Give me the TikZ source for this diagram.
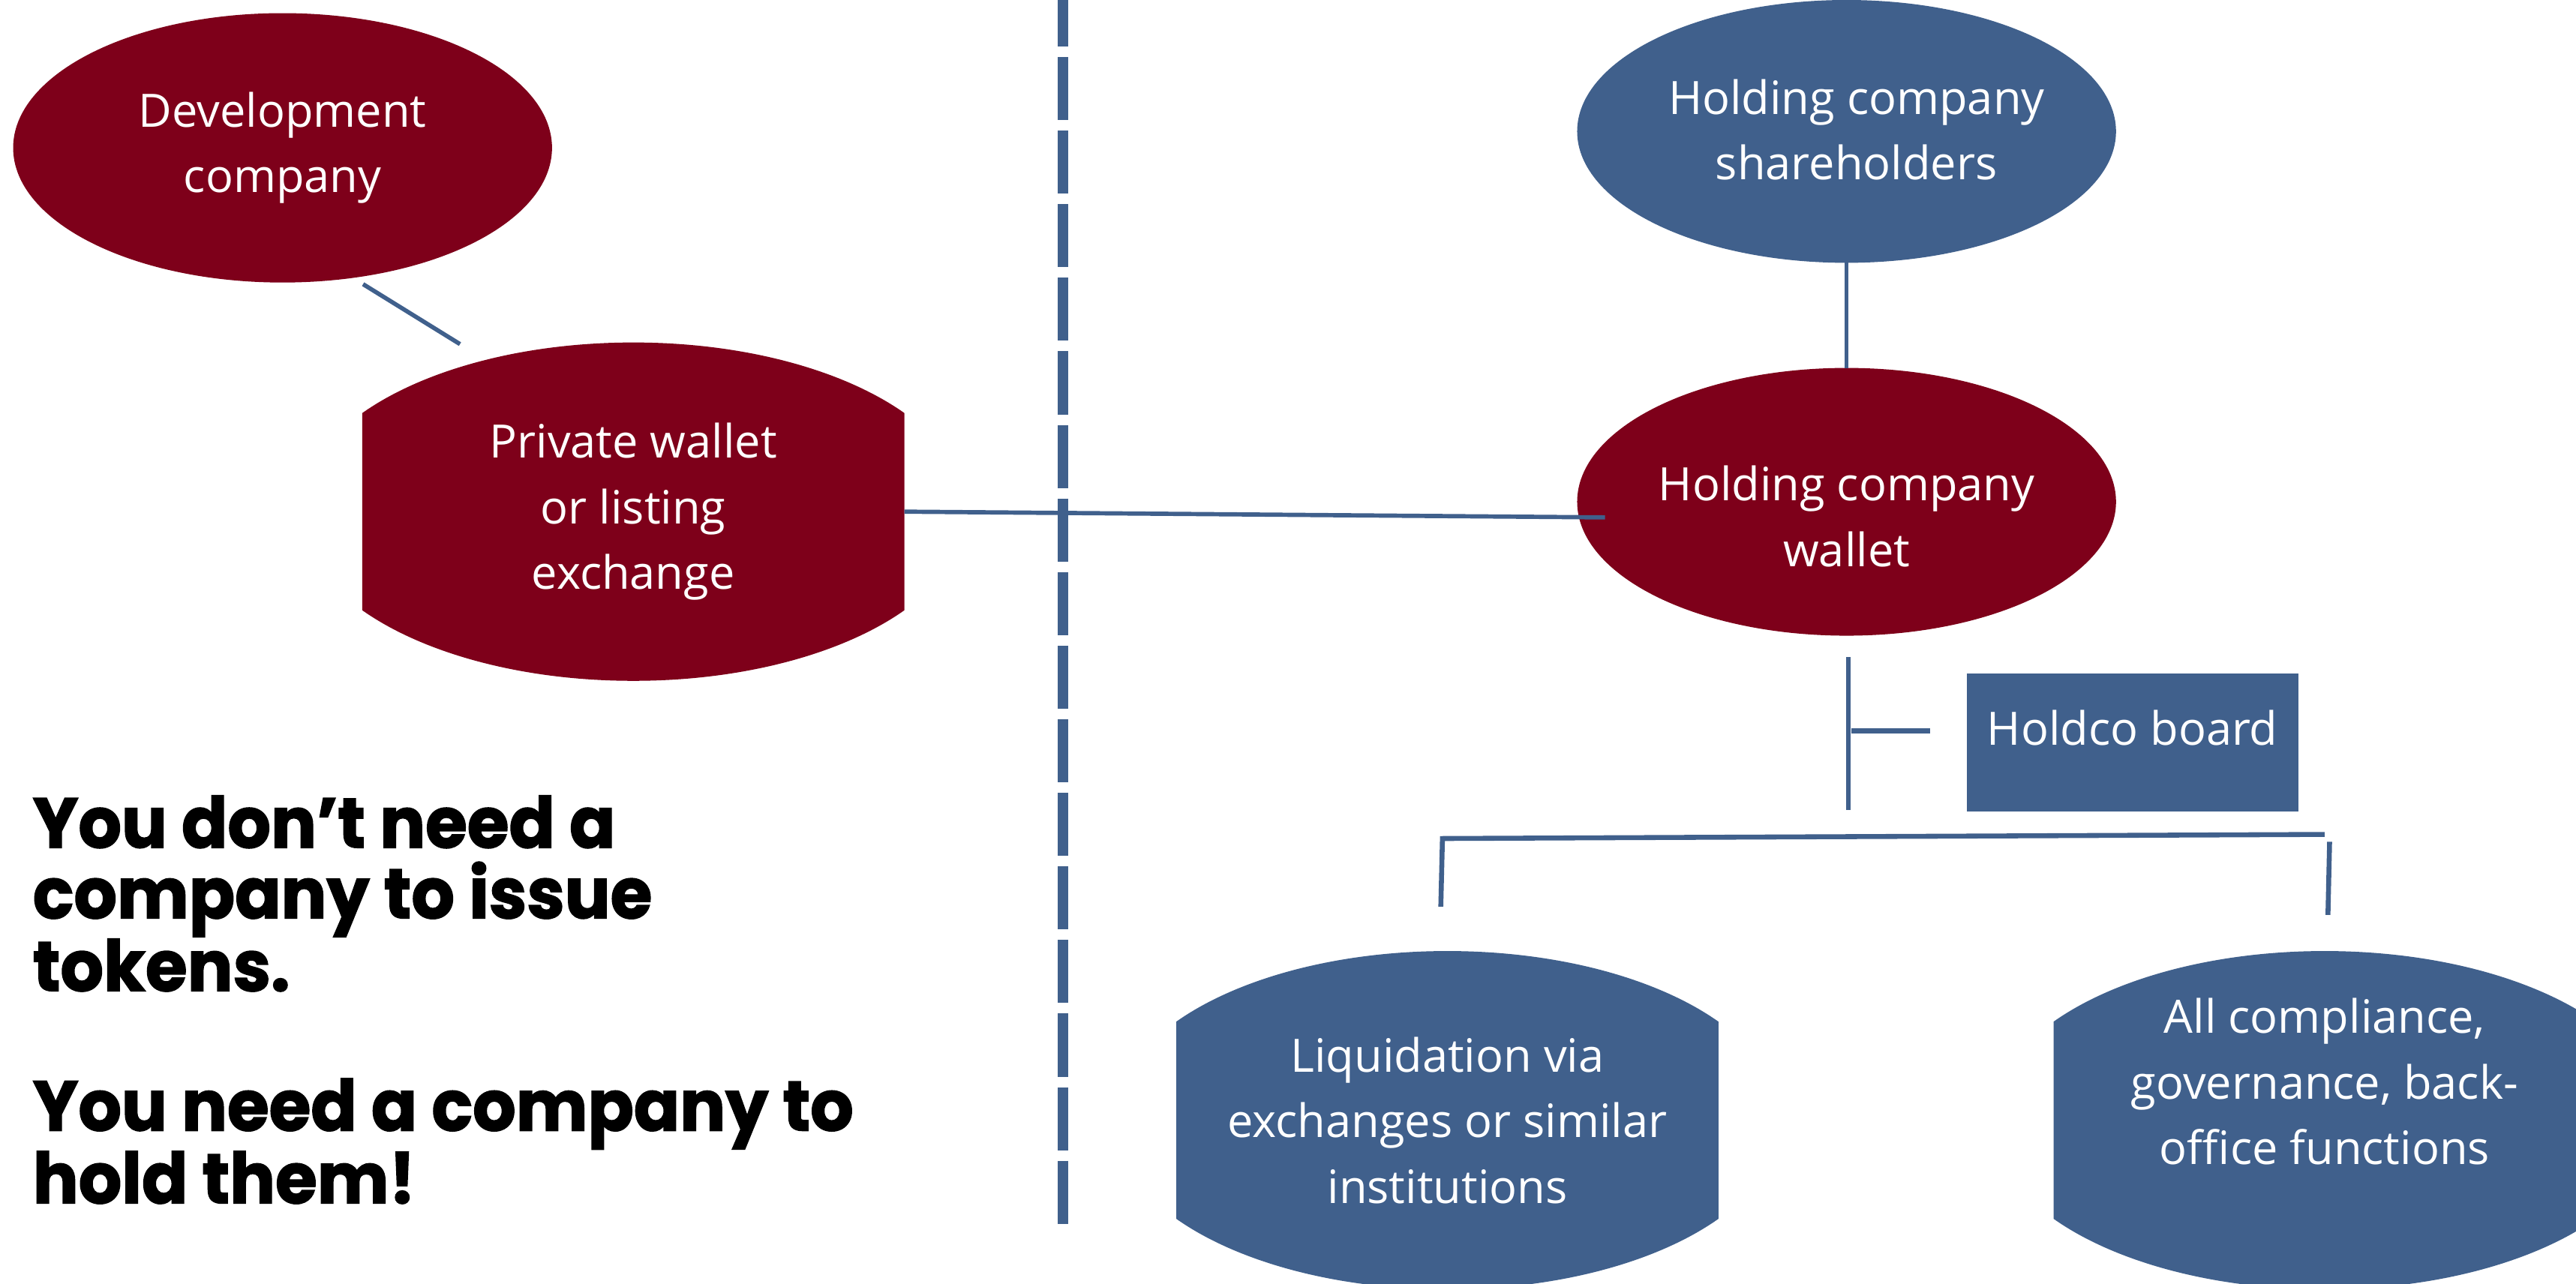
\documentclass[tikz,border=0pt]{standalone}
\usepackage{fontspec}
\setmainfont{Open Sans}
\newfontfamily\heavy{Poppins}[FakeStretch=0.96, FakeBold=1.6]
\newfontfamily\headfont{Poppins}
\usetikzlibrary{shapes.geometric}

\definecolor{wine}{RGB}{126,0,26}
\definecolor{slate}{RGB}{64,96,140}

\begin{document}
\begin{tikzpicture}[x=1pt,y=-1pt,
  every node/.style={inner sep=0pt, outer sep=0pt},
  boxtext/.style={text=white, align=center, font=\fontsize{28}{40}\selectfont},
  oval/.style={ellipse, boxtext, minimum width=328pt},
  barrel/.style={rectangle, boxtext, minimum width=330pt, minimum height=206pt,
    path picture={\fill[#1] (path picture bounding box.center)
      ellipse [x radius=203pt, y radius=103pt];}},
  link/.style={draw=slate, line width=2.6pt},
  bracket/.style={draw=slate, line width=3pt},
  divider/.style={draw=slate, line width=6.1pt, dash pattern=on 38.4pt off 6.4pt},
  slogan/.style={align=left, font=\heavy\bfseries\fontsize{43}{43}\selectfont},
  heading/.style={font=\headfont\bfseries\fontsize{40}{40}\selectfont, anchor=base}]

\useasboundingbox (0,0) rectangle (1568,781.7);

% heading fragments peeking in at the top edge
\node[heading] (lpar) at (490,-9) {(};
\node[heading] (rpar) at (796,-9) {)};

% dividing line between the two halves
\coordinate (divtop) at (647,-10.1);
\coordinate (divbot) at (647,745);
\draw[divider] (divtop) -- (divbot);

% left half: issuing tokens
\node[oval, fill=wine, minimum height=164pt] (dev) at (172,90) {Development\\company};
\node[barrel=wine] (pw) at (385.5,311.5) {Private wallet\\or listing\\exchange};

% right half: holding them
\node[oval, fill=slate, minimum height=160pt] (sh) at (1124,80) {};
\node[boxtext] (shtext) at (1130,79) {Holding company\\shareholders};
\node[oval, fill=wine, minimum height=163pt] (hw) at (1124,305.5) {};
\node[boxtext] (hwtext) at (1124,314.5) {Holding company\\wallet};
\node[rectangle, fill=slate, minimum width=202pt, minimum height=84pt, boxtext]
  (board) at (1298,452) {\raisebox{9pt}[\height][\depth]{Holdco board}};
\node[barrel=slate] (liq) at (881,682) {Liquidation via\\exchanges or similar\\institutions};
\node[barrel=slate] (comp) at (1415,682) {};
\node[boxtext] (comptext) at (1415,658.5) {All compliance,\\governance, back-\\office functions};

% connectors
\coordinate (d1) at (221,173);
\coordinate (d2) at (280,209.5);
\draw[link] (d1) -- (d2);

\coordinate (hwin) at (977,315);
\draw[link] (pw.east) -- (hwin);

\draw[link] (sh.south) -- (hw.north);

\coordinate (trunktop) at (1125,400);
\coordinate (trunkbot) at (1125,493);
\coordinate (tickl) at (1127,445);
\coordinate (tickr) at (1175,445);
\draw[link] (trunktop) -- (trunkbot);
\draw[bracket] (tickl) -- (tickr);

\coordinate (bl) at (877,552);
\coordinate (bc) at (878,510.5);
\coordinate (br) at (1415,508);
\coordinate (rt) at (1418,512.5);
\coordinate (rb) at (1417,557);
\draw[bracket] (bl) -- (bc) -- (br);
\draw[bracket] (rt) -- (rb);

% the message (anchored at the baseline of its last line)
\node[slogan, anchor=base west] (msg) at (20,732.6)
  {You don’t need a\\company to issue\\tokens.\\[42pt]You need a company to\\hold them!};

\end{tikzpicture}
\end{document}
